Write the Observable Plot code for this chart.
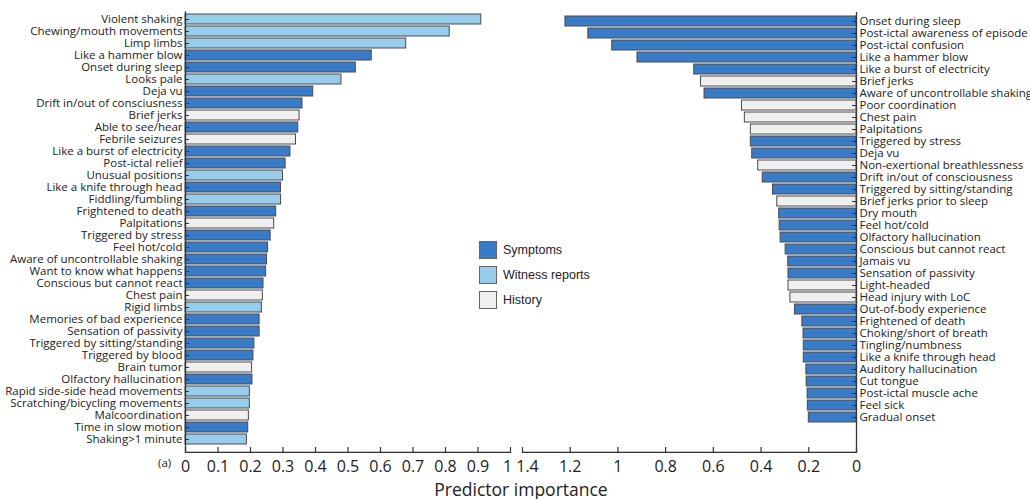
<!DOCTYPE html>
<html>
<head>
<meta charset="utf-8">
<script src="https://cdn.jsdelivr.net/npm/d3@7"></script>
<script src="https://cdn.jsdelivr.net/npm/@observablehq/plot@0.6"></script>
<style>
  body { margin: 0; background: #fff; }
  #wrap { position: relative; width: 1030px; height: 499px; font-family: "Open Sans", sans-serif; color: #222; }
  .panel { position: absolute; top: 0; }
  #legend { position: absolute; left: 479px; top: 241px; font-family: "Liberation Sans", Arial, sans-serif; font-size: 12.5px; color: #222; }
  .lg { display: flex; align-items: center; height: 17px; margin-bottom: 8px; }
  .sw { width: 16px; height: 16px; border: 1px solid #666; margin-right: 6px; }
  #xlabel { position: absolute; left: 0; width: 1042px; top: 477px; text-align: center; font-size: 17.5px; color: #222; }
  #tag { position: absolute; left: 158px; top: 455px; font-size: 11.5px; color: #222; }
</style>
</head>
<body>
<div id="wrap">
  <div id="left" class="panel" style="left:0px"></div>
  <div id="right" class="panel" style="left:515px"></div>
  <div id="legend"></div>
  <div id="tag">(a)</div>
  <div id="xlabel">Predictor importance</div>
</div>
<script>
const groupNames = ["Symptoms", "Witness reports", "History"];
const groupColors = ["#3a7bc8", "#97cdeb", "#efefef"];

const leftLabels = [
  "Violent shaking", "Chewing/mouth movements", "Limp limbs", "Like a hammer blow",
  "Onset during sleep", "Looks pale", "Deja vu", "Drift in/out of consciusness",
  "Brief jerks", "Able to see/hear", "Febrile seizures", "Like a burst of electricity",
  "Post-ictal relief", "Unusual positions", "Like a knife through head", "Fiddling/fumbling",
  "Frightened to death", "Palpitations", "Triggered by stress", "Feel hot/cold",
  "Aware of uncontrollable shaking", "Want to know what happens", "Conscious but cannot react", "Chest pain",
  "Rigid limbs", "Memories of bad experience", "Sensation of passivity", "Triggered by sitting/standing",
  "Triggered by blood", "Brain tumor", "Olfactory hallucination", "Rapid side-side head movements",
  "Scratching/bicycling movements", "Malcoordination", "Time in slow motion", "Shaking>1 minute"
];
const leftValues = [
  0.91, 0.813, 0.679, 0.573,
  0.524, 0.48, 0.393, 0.36,
  0.351, 0.347, 0.34, 0.323,
  0.308, 0.30, 0.294, 0.294,
  0.279, 0.273, 0.262, 0.254,
  0.251, 0.248, 0.24, 0.238,
  0.235, 0.228, 0.228, 0.212,
  0.209, 0.205, 0.206, 0.198,
  0.198, 0.195, 0.193, 0.189
];
const leftGroups = [
  "Witness reports", "Witness reports", "Witness reports", "Symptoms",
  "Symptoms", "Witness reports", "Symptoms", "Symptoms",
  "History", "Symptoms", "History", "Symptoms",
  "Symptoms", "Witness reports", "Symptoms", "Witness reports",
  "Symptoms", "History", "Symptoms", "Symptoms",
  "Symptoms", "Symptoms", "Symptoms", "History",
  "Witness reports", "Symptoms", "Symptoms", "Symptoms",
  "Symptoms", "History", "Symptoms", "Witness reports",
  "Witness reports", "History", "Symptoms", "Witness reports"
];

const rightLabels = [
  "Onset during sleep", "Post-ictal awareness of episode", "Post-ictal confusion", "Like a hammer blow",
  "Like a burst of electricity", "Brief jerks", "Aware of uncontrollable shaking", "Poor coordination",
  "Chest pain", "Palpitations", "Triggered by stress", "Deja vu",
  "Non-exertional breathlessness", "Drift in/out of consciousness", "Triggered by sitting/standing", "Brief jerks prior to sleep",
  "Dry mouth", "Feel hot/cold", "Olfactory hallucination", "Conscious but cannot react",
  "Jamais vu", "Sensation of passivity", "Light-headed", "Head injury with LoC",
  "Out-of-body experience", "Frightened of death", "Choking/short of breath", "Tingling/numbness",
  "Like a knife through head", "Auditory hallucination", "Cut tongue", "Post-ictal muscle ache",
  "Feel sick", "Gradual onset"
];
const rightValues = [
  1.22, 1.124, 1.024, 0.918,
  0.68, 0.652, 0.637, 0.48,
  0.468, 0.443, 0.443, 0.437,
  0.412, 0.393, 0.35, 0.332,
  0.324, 0.322, 0.318, 0.297,
  0.286, 0.285, 0.285, 0.277,
  0.258, 0.227, 0.222, 0.221,
  0.221, 0.21, 0.209, 0.205,
  0.204, 0.2
];
const rightGroups = [
  "Symptoms", "Symptoms", "Symptoms", "Symptoms",
  "Symptoms", "History", "Symptoms", "History",
  "History", "History", "Symptoms", "Symptoms",
  "History", "Symptoms", "Symptoms", "History",
  "Symptoms", "Symptoms", "Symptoms", "Symptoms",
  "Symptoms", "Symptoms", "History", "History",
  "Symptoms", "Symptoms", "Symptoms", "Symptoms",
  "Symptoms", "Symptoms", "Symptoms", "Symptoms",
  "Symptoms", "Symptoms"
];

const leftTicks = [0, 0.1, 0.2, 0.3, 0.4, 0.5, 0.6, 0.7, 0.8, 0.9, 1];
const rightTicks = [0, 0.2, 0.4, 0.6, 0.8, 1, 1.2, 1.4];

const leftData = leftLabels.map((label, i) => ({label, value: leftValues[i], group: leftGroups[i]}));
const rightData = rightLabels.map((label, i) => ({label, value: rightValues[i], group: rightGroups[i]}));

const H = 480;
const axisColor = "#333";

function panel({data, labels, ticks, xDomain, reverse, width, marginLeft, marginRight, marginTop, insetBottom, side}) {
  const marginBottom = H - 453;
  const frameH = H - marginTop - marginBottom;
  const frameW = width - marginLeft - marginRight;
  const endTick = xDomain[1];
  const endDx = side === "left" ? -3 : 5;
  return Plot.plot({
    width, height: H, marginLeft, marginRight, marginTop, marginBottom,
    style: {fontFamily: "Open Sans, sans-serif", fontSize: "11.5px", color: "#222", background: "transparent", overflow: "visible"},
    x: {domain: xDomain, reverse},
    y: {domain: labels, padding: 0.17, insetBottom},
    color: {domain: groupNames, range: groupColors},
    marks: [
      Plot.barX(data, {x: "value", y: "label", fill: "group", stroke: "#4a4a4a", strokeWidth: 1}),
      Plot.ruleX([0], {stroke: axisColor, strokeWidth: 1.3}),
      Plot.rect([0], {x1: xDomain[0], x2: xDomain[1], insetTop: frameH - 1.3, fill: axisColor}),
      Plot.ruleX(ticks, {x: d => d, insetTop: frameH - 6, stroke: axisColor, strokeWidth: 1.2}),
      side === "left"
        ? Plot.tickY(labels, {y: d => d, insetRight: frameW - 4, stroke: axisColor})
        : Plot.tickY(labels, {y: d => d, insetLeft: frameW - 4, stroke: axisColor}),
      Plot.axisY({anchor: side, tickSize: 0, tickPadding: 3, fontSize: 11.5, label: null, fill: "#222"}),
      Plot.axisX({anchor: "bottom", ticks: ticks.filter(t => t !== endTick), tickSize: 0, tickPadding: 7, fontSize: 16, label: null, tickFormat: d => String(d), fill: "#222"}),
      Plot.axisX({anchor: "bottom", ticks: [endTick], tickSize: 0, tickPadding: 7, dx: endDx, fontSize: 16, label: null, tickFormat: d => String(d), fill: "#222"})
    ]
  });
}

document.getElementById("left").append(panel({
  data: leftData, labels: leftLabels, ticks: leftTicks, xDomain: [0, 1], reverse: false,
  width: 520, marginLeft: 185, marginRight: 10, marginTop: 11.3, insetBottom: 6, side: "left"
}));
document.getElementById("right").append(panel({
  data: rightData, labels: rightLabels, ticks: rightTicks, xDomain: [0, 1.4], reverse: true,
  width: 515, marginLeft: 7, marginRight: 174, marginTop: 12, insetBottom: 28, side: "right"
}));

const legend = document.getElementById("legend");
groupNames.forEach((g, i) => {
  const row = document.createElement("div");
  row.className = "lg";
  const sw = document.createElement("div");
  sw.className = "sw";
  sw.style.background = groupColors[i];
  const t = document.createElement("span");
  t.textContent = g;
  row.append(sw, t);
  legend.append(row);
});
</script>
</body>
</html>
